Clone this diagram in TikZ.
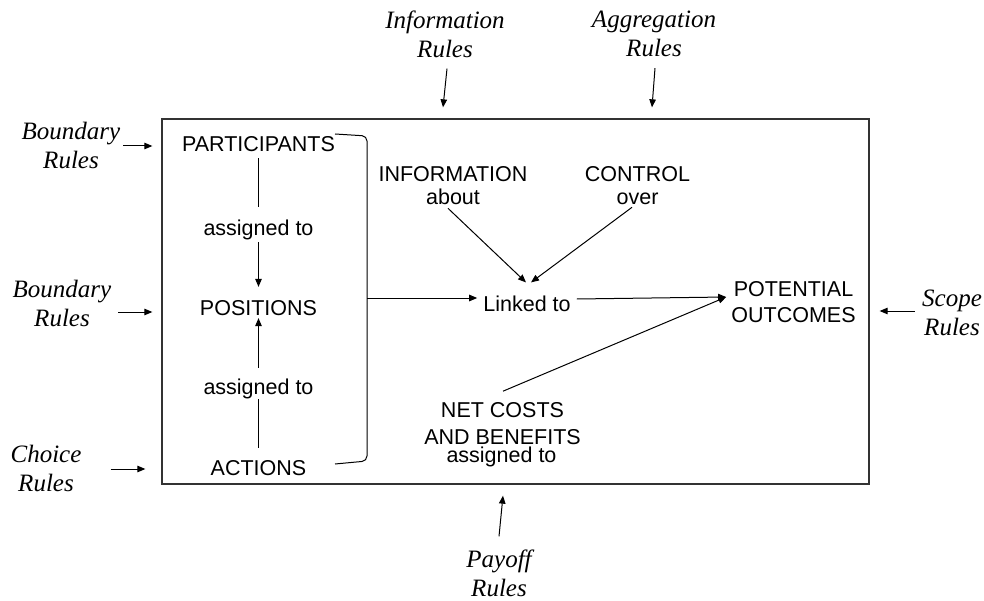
\documentclass[tikz,border=0pt]{standalone}
\usepackage{fontspec}
\setmainfont{Liberation Sans}
\newfontfamily\rulesfont{Liberation Serif}
\usetikzlibrary{arrows.meta,calc}

\begin{document}
\begin{tikzpicture}[x=1bp,y=-1bp,
  lbl/.style={font=\fontsize{21.5bp}{23bp}\selectfont, align=center, inner sep=0pt},
  rules/.style={font=\rulesfont\itshape\fontsize{25bp}{29bp}\selectfont, align=center, inner sep=0pt},
  conn/.style={line width=1bp, draw=black},
  arr/.style={conn, -{Triangle[length=8bp,width=6.5bp]}},
  arena/.style={draw=black!80, line width=1.3bp, minimum width=707bp, minimum height=365bp, inner sep=0pt},
]
\useasboundingbox (0,0) rectangle (984,601);

% the action arena
\node[arena] (arena) at (515.5,301.5) {};

% rules acting on the arena from outside
\node[rules] (infoR)   at (445,34)    {Information\\Rules};
\node[rules] (aggR)    at (654,34)    {Aggregation\\Rules};
\node[rules] (bnd1)    at (71,145)    {Boundary\\Rules};
\node[rules] (bnd2)    at (62,303)    {Boundary\\Rules};
\node[rules] (choice)  at (46,468)    {Choice\\Rules};
\node[rules] (scope)   at (952,313)   {Scope\\Rules};
\node[rules] (payoff)  at (499,573)   {Payoff\\Rules};

% elements inside the arena
\node[lbl] (part)   at (258.5,144.5) {PARTICIPANTS};
\node[lbl] (asg1)   at (258.5,229.5) {assigned to};
\node[lbl] (pos)    at (258.5,308.5) {POSITIONS};
\node[lbl] (asg2)   at (258.5,389)   {assigned to};
\node[lbl] (act)    at (258.5,468.5) {ACTIONS};
\node[lbl] (info)   at (453,186)     {INFORMATION\\about};
\node[lbl] (ctrl)   at (637.5,186)   {CONTROL\\over};
\node[lbl] (linked) at (527,303.5)   {Linked to};
\node[lbl, font=\fontsize{21.5bp}{26bp}\selectfont] (pot) at (793.5,302.5) {POTENTIAL\\OUTCOMES};
\node[lbl, font=\fontsize{21.5bp}{27bp}\selectfont] (net) at (502.5,423.5) {NET COSTS\\AND BENEFITS};
\node[lbl] (asg3)   at (501.5,457)   {assigned to};

% bracket gathering participants, positions and actions
\coordinate (brtop) at (335,134);
\coordinate (brbot) at (335,464);
\coordinate (brk)   at (367,298);
\draw[conn, rounded corners=5bp] (brtop) -- (367,136) -- (367,461) -- (brbot);

% rule arrows
\draw[arr] ($(infoR.south)+(2,11)$) -- ($(infoR.south |- arena.north)+(-2,-11)$);
\draw[arr] ($(aggR.south)+(1,11)$) -- ($(aggR.south |- arena.north)+(-2,-11)$);
\draw[arr] ($(bnd1.east)+(3,1)$) -- ($(bnd1.east -| arena.west)+(-9,1)$);
\draw[arr] ($(bnd2.east)+(7,9)$) -- ($(bnd2.east -| arena.west)+(-9,9)$);
\draw[arr] ($(choice.east)+(29,1)$) -- ($(choice.east -| arena.west)+(-16,1)$);
\draw[arr] ($(scope.west)+(-7,-2)$) -- ($(scope.west -| arena.east)+(10,-2)$);
\draw[arr] ($(payoff.north)+(0,-13)$) -- ($(payoff.north |- arena.south)+(4,11)$);

% assignment chain
\draw[conn, shorten <=5.8bp, shorten >=12.5bp] (part) -- (asg1);
\draw[arr,  shorten <=2.6bp, shorten >=13.8bp] (asg1) -- (pos);
\draw[arr,  shorten <=11bp,  shorten >=1.8bp]  (asg2) -- (pos);
\draw[conn, shorten <=12.8bp] (act) -- (asg2);

% links toward outcomes
\draw[arr] (brk) -- ($(brk -| linked.west)+(-6,0)$);
\draw[arr] ($(info.south)+(-5,3)$) -- ($(linked.north)+(-1,-13)$);
\draw[arr] ($(ctrl.south)+(-5.5,2)$) -- ($(linked.north)+(4,-13)$);
\draw[arr] ($(linked.east)+(6,-4.5)$) -- ($(pot.west)+(-5,-5.5)$);
\draw[arr] ($(net.north)+(0.5,-11)$) -- ($(pot.west)+(-5,-5.5)$);
\end{tikzpicture}
\end{document}
